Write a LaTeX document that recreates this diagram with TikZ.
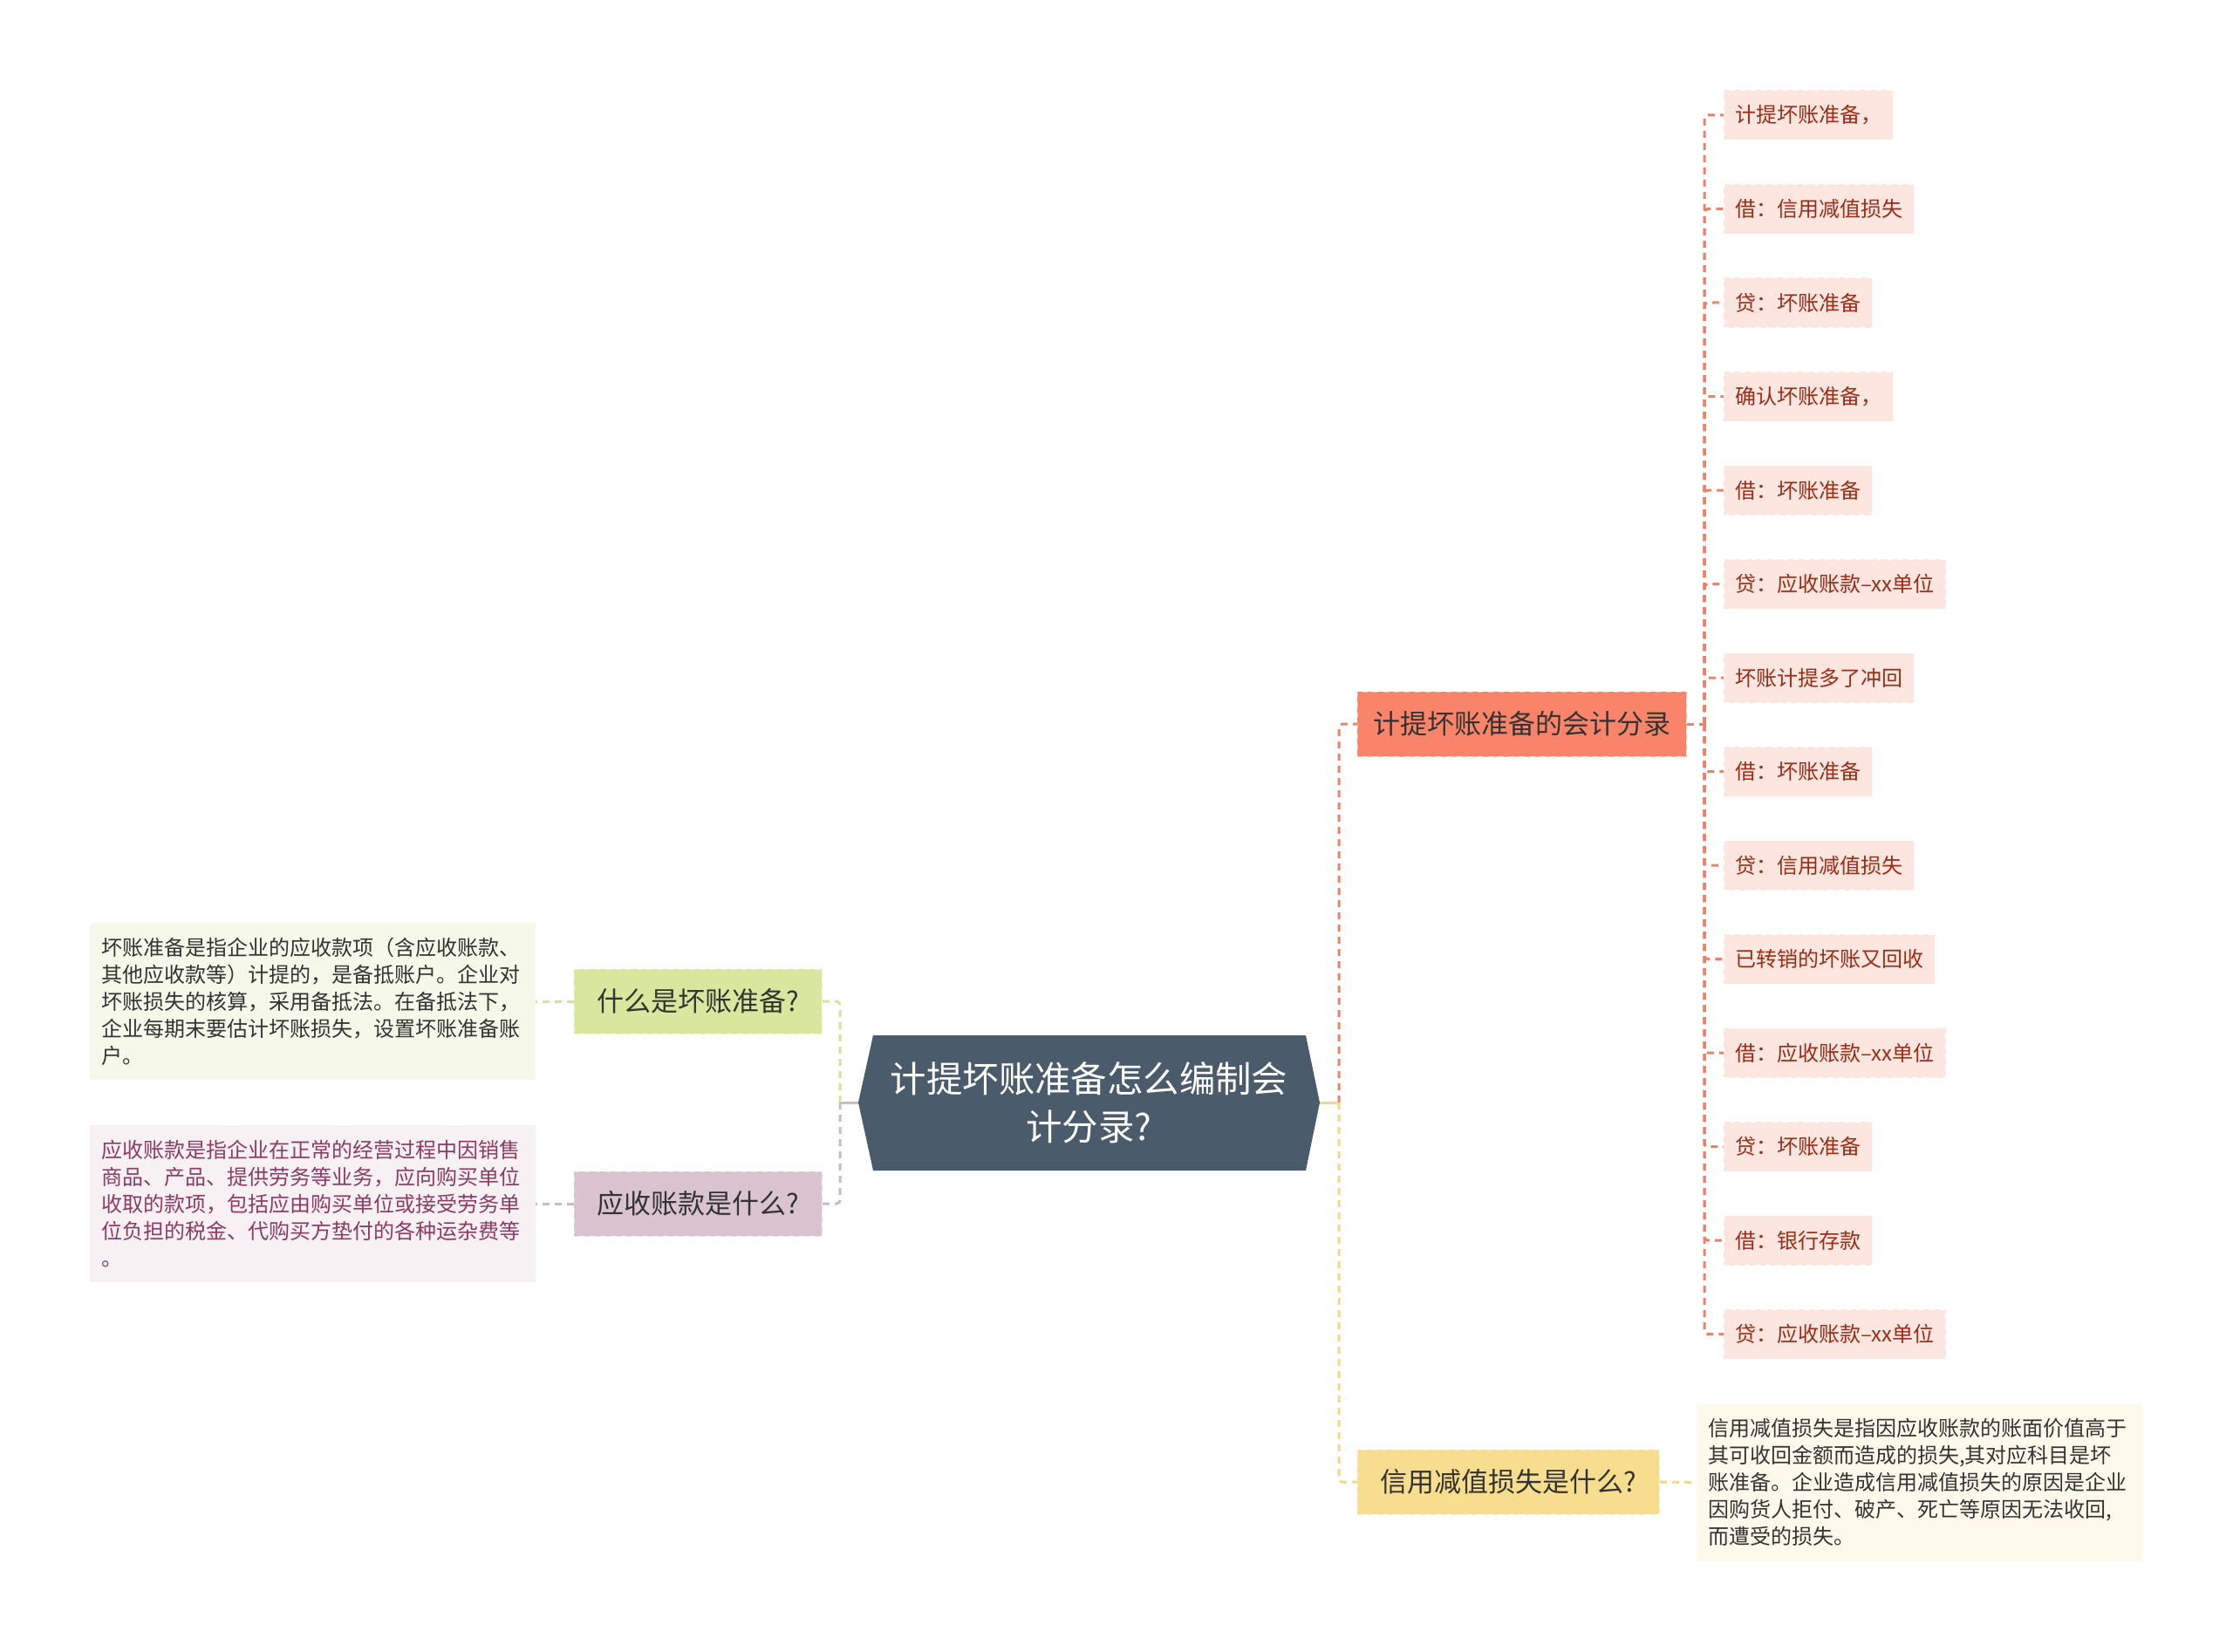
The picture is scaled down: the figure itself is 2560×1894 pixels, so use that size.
\documentclass[tikz,border=0pt]{standalone}
\usepackage{fontspec}
\setmainfont{Noto Sans CJK SC}
\usepackage{tikz}
\usetikzlibrary{positioning}
\definecolor{cslate}{HTML}{4A5B6B}
\definecolor{csalmon}{HTML}{F9846A}
\definecolor{cyellow}{HTML}{F7DD8E}
\definecolor{cgreen}{HTML}{D8E79E}
\definecolor{cmauve}{HTML}{D8C3CF}
\definecolor{lsalmon}{HTML}{E9846A}
\definecolor{lyellow}{HTML}{F2D98A}
\definecolor{lgreen}{HTML}{D3E39A}
\definecolor{lmauve}{HTML}{CDB9C4}
\definecolor{ngreen}{HTML}{F6F9E9}
\definecolor{nmauve}{HTML}{F7F1F4}
\definecolor{nyellow}{HTML}{FEF9EA}
\definecolor{tmauve}{HTML}{8E3A63}
\definecolor{leaffill}{HTML}{FCE6DF}
\definecolor{leaftext}{HTML}{9B2D16}
\definecolor{ctext}{HTML}{333333}
\tikzset{topic/.style = {rectangle, minimum height=37pt, inner xsep=9pt,
                         font=\fontsize{15.5}{18}\selectfont, text=ctext}}
\tikzset{note/.style = {rectangle, text width=242.5pt, inner xsep=6.5pt, align=left,
                        minimum height=90pt, font=\fontsize{12}{15.5}\selectfont}}
\tikzset{leaf/.style = {rectangle, fill=leaffill, draw=white, dashed, thin,
                        minimum height=28.5pt, inner xsep=6.5pt, text=leaftext,
                        font=\fontsize{12}{14}\selectfont}}
\tikzset{lnk/.style = {line width=1.5pt, dash pattern=on 4pt off 3pt, rounded corners=2pt}}

\begin{document}
\begin{tikzpicture}[x=0.5pt, y=-0.5pt]
    \useasboundingbox (0, 0) rectangle (2560, 1894);

    \fill [cslate] (984, 1264) -- (1001, 1187) -- (1497, 1187) -- (1513, 1264)
                   -- (1497, 1342) -- (1001, 1342) -- cycle;
    \node (root) [minimum width=264.5pt, minimum height=77.5pt, inner sep=0, text=white,
                  align=center, font=\fontsize{20.7}{27.5}\selectfont]
          at (1248.5, 1264) {计提坏账准备怎么编制会\\计分录?};

    \node (entry) [topic, fill=csalmon, draw=csalmon!55!white, dashed, thin, anchor=west]
          at (1556, 830) {计提坏账准备的会计分录};
    \node (loss) [topic, fill=cyellow, draw=cyellow!55!white, dashed, thin, anchor=west,
                  minimum width=173pt] at (1556, 1699) {信用减值损失是什么?};
    \node (what) [topic, fill=cgreen, draw=cgreen!55!white, dashed, thin,
                  minimum width=142pt] at (800, 1148) {什么是坏账准备?};
    \node (recv) [topic, fill=cmauve, draw=cmauve!55!white, dashed, thin,
                  minimum width=142pt] at (800, 1380) {应收账款是什么?};

    \node (whatnote) [note, fill=ngreen, text=ctext] at (358.5, 1148)
          {坏账准备是指企业的应收款项（含应收账款、\\其他应收款等）计提的，是备抵账户。企业对\\坏账损失的核算，采用备抵法。在备抵法下，\\企业每期末要估计坏账损失，设置坏账准备账\\户。};
    \node (recvnote) [note, fill=nmauve, text=tmauve] at (358.5, 1380)
          {应收账款是指企业在正常的经营过程中因销售\\商品、产品、提供劳务等业务，应向购买单位\\收取的款项，包括应由购买单位或接受劳务单\\位负担的税金、代购买方垫付的各种运杂费等\\。};
    \node (lossnote) [note, fill=nyellow, text=ctext] at (2200.5, 1699.5)
          {信用减值损失是指因应收账款的账面价值高于\\其可收回金额而造成的损失,其对应科目是坏\\账准备。企业造成信用减值损失的原因是企业\\因购货人拒付、破产、死亡等原因无法收回,\\而遭受的损失。};

    \foreach \txt [count=\i] in {计提坏账准备，, 借：信用减值损失, 贷：坏账准备,
        确认坏账准备，, 借：坏账准备, 贷：应收账款–xx单位, 坏账计提多了冲回,
        借：坏账准备, 贷：信用减值损失, 已转销的坏账又回收, 借：应收账款–xx单位,
        贷：坏账准备, 借：银行存款, 贷：应收账款–xx单位}
      \node (c\i) [leaf, anchor=west] at (1976, {132 + 107.5*(\i - 1)}) {\txt};

    % hubs
    \coordinate (rhub) at (1535, 1264);
    \coordinate (lhub) at (963, 1264);
    \coordinate (chub) at (1954, 830);

    \draw [line width=1.5pt, lyellow] (root.east) -- (rhub);
    \draw [line width=1.5pt, lmauve] (root.west) -- (lhub);
    \draw [lnk, lsalmon] (rhub) |- (entry.west);
    \draw [lnk, lyellow] (rhub) |- (loss.west);
    \draw [lnk, lgreen] (lhub) |- (what.east);
    \draw [lnk, lmauve] (lhub) |- (recv.east);

    \draw [lnk, lgreen] (what.west) -- (whatnote.east);
    \draw [lnk, lmauve] (recv.west) -- (recvnote.east);
    \draw [lnk, lyellow] (loss.east) -- (lossnote.west);

    \draw [lnk, lsalmon] (entry.east) -- (chub);
    \foreach \i in {1, ..., 14}
      \draw [lnk, lsalmon] (chub) |- (c\i.west);
\end{tikzpicture}
\end{document}
